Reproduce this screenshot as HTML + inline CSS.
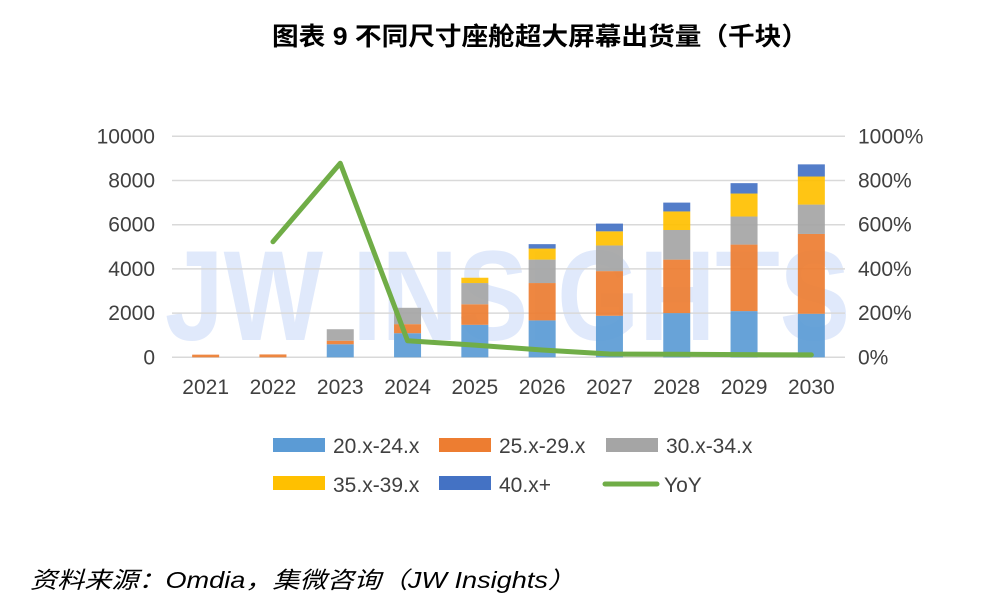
<!DOCTYPE html>
<html><head><meta charset="utf-8"><style>
body{margin:0;background:#fff;width:1000px;height:605px;overflow:hidden;font-family:"Liberation Sans","Noto Sans CJK SC",sans-serif}
</style></head><body>
<svg width="1000" height="605" xmlns="http://www.w3.org/2000/svg" id="svg">
<text x="272" y="45" textLength="536" lengthAdjust="spacingAndGlyphs" font-size="25" font-weight="bold" fill="#000" font-family="Liberation Sans, Noto Sans CJK SC, sans-serif">图表 9  不同尺寸座舱超大屏幕出货量（千块）</text>
<text x="165" y="340" textLength="685" lengthAdjust="spacingAndGlyphs" font-size="128" font-weight="bold" fill="#dbe6fb" opacity="0.85">JW INSIGHTS</text>
<g id="grid"></g><g id="bars"></g><g id="line"></g><g id="axes"></g>
<g font-size="21" fill="#404040">
<rect x="273" y="438" width="52" height="14" fill="#5b9bd5"/><text x="333" y="453">20.x-24.x</text>
<rect x="439" y="438" width="52" height="14" fill="#ed7d31"/><text x="499" y="453">25.x-29.x</text>
<rect x="606" y="438" width="52" height="14" fill="#a5a5a5"/><text x="666" y="453">30.x-34.x</text>
<rect x="273" y="476" width="52" height="14" fill="#ffc000"/><text x="333" y="492">35.x-39.x</text>
<rect x="439" y="476" width="52" height="14" fill="#4472c4"/><text x="499" y="492">40.x+</text>
<line x1="605" y1="484" x2="657" y2="484" stroke="#70ad47" stroke-width="5" stroke-linecap="round"/><text x="664" y="492">YoY</text>
</g>
<text x="30" y="588" textLength="545" lengthAdjust="spacingAndGlyphs" font-size="23" font-style="italic" fill="#000">资料来源：Omdia，集微咨询（JW Insights）</text>
</svg>
<script>
const years=["2021","2022","2023","2024","2025","2026","2027","2028","2029","2030"];
const s20=[0,0,590,1090,1470,1670,1880,2000,2090,1970];
const s25=[120,130,160,410,930,1690,2020,2420,3010,3610];
const s30=[0,0,520,740,960,1060,1160,1340,1270,1330];
const s35=[0,0,0,0,240,500,640,840,1040,1270];
const s40=[0,0,0,0,0,200,350,400,470,550];
const yoy=[null,523,878,75,55,33,15,14,12,11];
const leftTicks=["0","2000","4000","6000","8000","10000"];
const rightTicks=["0%","200%","400%","600%","800%","1000%"];
const NS="http://www.w3.org/2000/svg";
const x0=172,x1=845,y0=357.3,yTop=136.3;
const yL=v=>y0-(v/10000)*(y0-yTop);
const yR=v=>y0-(v/1000)*(y0-yTop);
const band=(x1-x0)/years.length;
const xc=i=>x0+band*(i+0.5);
function mk(tag,attrs,parent){const e=document.createElementNS(NS,tag);for(const k in attrs)e.setAttribute(k,attrs[k]);document.getElementById(parent).appendChild(e);return e;}
leftTicks.forEach((t,i)=>{
 const y=yL(i*2000);
 const g=mk('line',{x1:x0,x2:x1,y1:y,y2:y,stroke:'#d9d9d9','stroke-width':1.5},'grid');
 
 
 const a=mk('text',{x:155,y:y+7,'text-anchor':'end','font-size':21,fill:'#404040'},'axes');a.textContent=t;
 
 
 const b=mk('text',{x:858,y:y+7,'font-size':21,fill:'#404040'},'axes');b.textContent=rightTicks[i];
 
 
});
const series=[[s20,'#5b9bd5'],[s25,'#ed7d31'],[s30,'#a5a5a5'],[s35,'#ffc000'],[s40,'#4472c4']];
const bw=27;
years.forEach((yr,i)=>{
 let acc=0;
 series.forEach(([arr,c],k)=>{
  const v=arr[i];if(!v){return;}
  const r=mk('rect',{x:xc(i)-bw/2,y:yL(acc+v),width:bw,height:yL(acc)-yL(acc+v),fill:c,opacity:0.92},'bars');
  
  
  acc+=v;
 });
 const t=mk('text',{x:xc(i),y:394,'text-anchor':'middle','font-size':21,fill:'#404040'},'axes');t.textContent=yr;
 
 
});
let d='';yoy.forEach((v,i)=>{if(v==null)return;d+=(d?'L':'M')+xc(i)+','+yR(v);});
const p=mk('path',{d:d,fill:'none',stroke:'#70ad47','stroke-width':5,'stroke-linejoin':'round','stroke-linecap':'round'},'line');


</script>
</body></html>
